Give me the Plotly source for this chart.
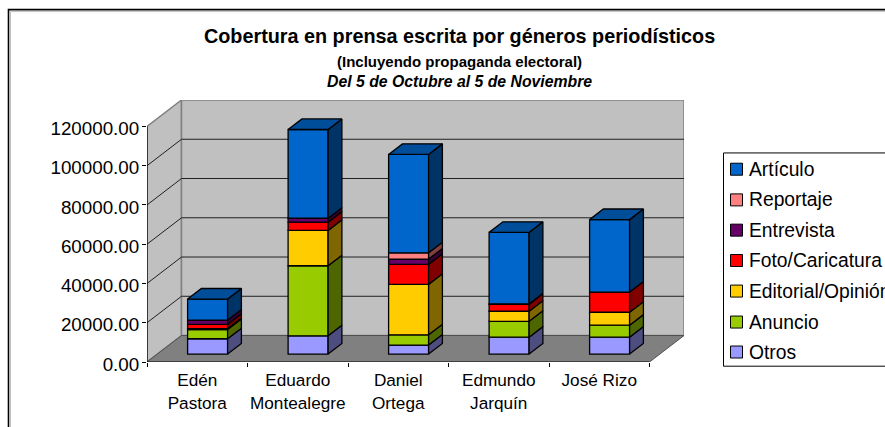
import plotly.graph_objects as go

candidates = ["Edén<br>Pastora", "Eduardo<br>Montealegre", "Daniel<br>Ortega", "Edmundo<br>Jarquín", "José Rizo"]
otros = [7800, 9300, 4600, 8600, 8600]
anuncio = [4700, 35700, 5200, 8100, 6100]
editorial = [500, 18000, 25700, 5100, 6600]
foto = [2100, 4200, 10200, 3500, 10300]
entrevista = [2200, 2000, 2700, 300, 0]
reportaje = [0, 0, 3200, 0, 0]
articulo = [10700, 45200, 50100, 36400, 36900]
series_names = ["Otros", "Anuncio", "Editorial/Opinión", "Foto/Caricatura", "Entrevista", "Reportaje", "Artículo"]
front_colors = ["#9999FF", "#99CC00", "#FFCC00", "#FF0000", "#660066", "#FF8080", "#0066CC"]
side_colors = ["#4D4D80", "#4D6600", "#806600", "#800000", "#330033", "#804040", "#003366"]
top_color = "#004D99"
y_ticks = [0, 20000, 40000, 60000, 80000, 100000, 120000]
all_series = [otros, anuncio, editorial, foto, entrevista, reportaje, articulo]

# pixel frame of the front axes and oblique projection
L, R, T, B = 147.0, 684.0, 100.0, 362.3
W, H = 885, 427
DX_PX, DY_PX = 34.5, 26.5
Y_MAX = 120000
CAT_PX = (R - DX_PX - L) / 5
VAL_PX = (B - T - DY_PX) / Y_MAX
DX = DX_PX / CAT_PX
DY = DY_PX / VAL_PX
BAR_W = 40 / CAT_PX
F0, F1 = 0.3, 0.7


def px(x):
    return (x - L) / (R - L)


def py(y):
    return (B - y) / (B - T)


fig = go.Figure()
n = len(candidates)
cum = [0] * n
centers = [i + 0.5 for i in range(n)]
x0 = F0 * DX
y0 = F0 * DY
ddx = (F1 - F0) * DX
ddy = (F1 - F0) * DY

for name, vals, fc, sc in zip(series_names, all_series, front_colors, side_colors):
    xs, ys, bases, sx, sy = [], [], [], [], []
    for i in range(n):
        if vals[i] <= 0:
            continue
        lo = cum[i] + y0
        hi = lo + vals[i]
        right = centers[i] + x0 + BAR_W / 2
        xs.append(centers[i] + x0)
        ys.append(vals[i])
        bases.append(lo)
        sx += [right, right + ddx, right + ddx, right, right, None]
        sy += [lo, lo + ddy, hi + ddy, hi, lo, None]
        cum[i] += vals[i]
    fig.add_trace(go.Bar(x=xs, y=ys, base=bases, width=BAR_W, name=name,
                         marker=dict(color=fc, line=dict(color="black", width=1.3))))
    fig.add_trace(go.Scatter(x=sx, y=sy, mode="lines", fill="toself", fillcolor=sc,
                             line=dict(color="black", width=1.3), hoverinfo="skip"))

tx, ty = [], []
for i in range(n):
    left = centers[i] + x0 - BAR_W / 2
    right = left + BAR_W
    h = cum[i] + y0
    tx += [left, left + ddx, right + ddx, right, left, None]
    ty += [h, h + ddy, h + ddy, h, h, None]
fig.add_trace(go.Scatter(x=tx, y=ty, mode="lines", fill="toself", fillcolor=top_color,
                         line=dict(color="black", width=1.3), hoverinfo="skip"))

# axis lines
fig.add_trace(go.Scatter(x=[0, 0, n], y=[Y_MAX, 0, 0], mode="lines", cliponaxis=False,
                         line=dict(color="black", width=1.2), hoverinfo="skip"))

shapes = []
wall = dict(type="path", layer="below", xref="x", yref="y")
shapes.append(dict(wall, path=f"M0,0 L{DX},{DY} L{n + DX},{DY} L{n},0 Z", fillcolor="#808080", line=dict(width=0)))
shapes.append(dict(wall, path=f"M0,0 L{DX},{DY} L{DX},{DY + Y_MAX} L0,{Y_MAX} Z", fillcolor="#C0C0C0",
                   line=dict(color="#808080", width=1.5)))
shapes.append(dict(wall, path=f"M{DX},{DY} L{n + DX},{DY} L{n + DX},{DY + Y_MAX} L{DX},{DY + Y_MAX} Z",
                   fillcolor="#C0C0C0", line=dict(color="#808080", width=1.5)))
for v in y_ticks[1:-1]:
    shapes.append(dict(wall, path=f"M0,{v} L{DX},{v + DY} L{n + DX},{v + DY}", line=dict(color="#202020", width=1)))
shapes.append(dict(wall, path=f"M0,0 L{DX},{DY} L{n + DX},{DY} L{n},0", line=dict(color="#505050", width=1)))

# outer frame
shapes.append(dict(type="rect", xref="paper", yref="paper", x0=px(10.5), x1=px(1100), y0=py(11.5), y1=py(1100),
                   line=dict(color="#C0C0C0", width=1)))
shapes.append(dict(type="rect", xref="paper", yref="paper", x0=px(8.5), x1=px(1100), y0=py(9.5), y1=py(1100),
                   line=dict(color="black", width=1.6)))

# legend
shapes.append(dict(type="rect", xref="paper", yref="paper", x0=px(723.5), x1=px(1100), y0=py(153), y1=py(366.5),
                   fillcolor="white", line=dict(color="black", width=1)))
annotations = []
font = "Liberation Sans"
leg_y = [352.3, 322.3, 291.3, 260.7, 230.3, 200, 169.3]
for name, fc, yy in zip(series_names, front_colors, leg_y):
    shapes.append(dict(type="rect", xref="paper", yref="paper", x0=px(730.5), x1=px(742.5), y0=py(yy - 6), y1=py(yy + 6),
                       fillcolor=fc, line=dict(color="black", width=1)))
    annotations.append(dict(text=name, xref="paper", yref="paper", x=px(747), y=py(yy), xanchor="left", yanchor="middle",
                            showarrow=False, font=dict(family=font, size=19.3, color="black")))

annotations += [
    dict(text="<b>Cobertura en prensa escrita por géneros periodísticos</b>", x=px(459), y=py(36),
         font=dict(family=font, size=19.8, color="black")),
    dict(text="<b>(Incluyendo propaganda electoral)</b>", x=px(459), y=py(61),
         font=dict(family=font, size=15, color="black")),
    dict(text="<b><i>Del 5 de Octubre al 5 de Noviembre</i></b>", x=px(459), y=py(81),
         font=dict(family=font, size=15.8, color="black")),
]
for a in annotations[-3:]:
    a.update(xref="paper", yref="paper", xanchor="center", yanchor="middle", showarrow=False)

fig.update_layout(
    width=W, height=H, autosize=False, showlegend=False, barmode="overlay",
    paper_bgcolor="white", plot_bgcolor="white",
    margin=dict(l=L, r=W - R, t=T, b=H - B, pad=0),
    shapes=shapes, annotations=annotations,
    xaxis=dict(range=[0, n + DX], tickvals=centers, ticktext=candidates, ticks="", showgrid=False, zeroline=False,
               showline=False, tickfont=dict(family=font, size=17.2, color="black"), ticklabelstandoff=6,
               minor=dict(tickvals=list(range(n + 1)), ticks="outside", ticklen=4, tickcolor="black", showgrid=False),
               automargin=False),
    yaxis=dict(range=[0, Y_MAX + DY], tickvals=y_ticks, tickformat=".2f", ticks="outside", ticklen=4, tickcolor="black",
               showgrid=False, zeroline=False, showline=False, separatethousands=False, ticklabelshift=2,
               ticklabelstandoff=-1,
               tickfont=dict(family=font, size=18.8, color="black"), automargin=False),
)

fig.write_html("out.html", config={"displayModeBar": False},
               post_script="document.body.style.margin='0';document.body.style.overflow='hidden';")
